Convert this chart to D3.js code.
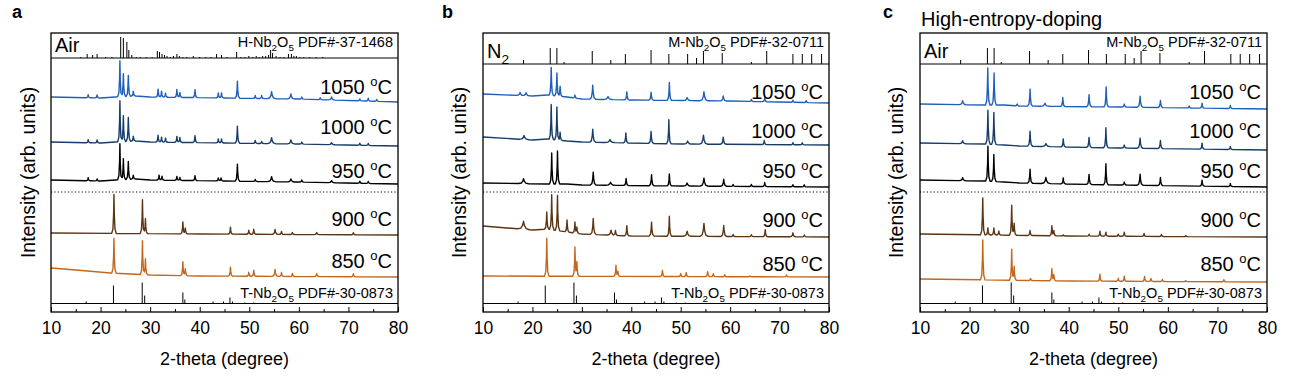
<!DOCTYPE html>
<html><head><meta charset="utf-8">
<script src="https://cdn.jsdelivr.net/npm/d3@7"></script>
<style>
body{margin:0;background:#fff}
svg{display:block}
text{font-family:"Liberation Sans",Arial,Helvetica,sans-serif;fill:#000}
</style>
</head><body>
<svg id="chart" width="1291" height="379"></svg>
<script>
// ---------------- DATA ----------------
const xTicks = [10, 20, 30, 40, 50, 60, 70, 80];
const xMinorTicks = [15, 25, 35, 45, 55, 65, 75];
const temperatures = ["1050", "1000", "950", "900", "850"];
const panelLetters = ["a", "b", "c"];
const atmospheres = ["Air", "N2", "Air"];
const topRefNames = ["H-Nb2O5 PDF#-37-1468", "M-Nb2O5 PDF#-32-0711", "M-Nb2O5 PDF#-32-0711"];
const bottomRefName = "T-Nb2O5 PDF#-30-0873";
const panelCTitle = "High-entropy-doping";

// reference stick patterns [2theta, relative height]
const hNb2O5Sticks = [[16.0,1],[17.3,4],[18.4,3],[19.3,4],[21.0,1],[22.3,1],[24.06,21],[24.6,20],[25.3,16],[25.7,8],[26.3,3],[27.2,1],[28.0,1],[29.2,1],[30.4,1],[31.45,7],[31.9,6],[32.4,4],[32.9,3],[33.4,2],[34.1,1],[34.7,2],[35.4,4],[35.9,2],[36.6,1],[37.4,1],[38.7,2],[40.0,1],[41.2,1],[42.3,1],[43.4,4],[44.4,3],[45.5,1],[47.45,6],[48.3,1],[49.1,1],[49.9,2],[50.7,1],[51.4,2],[52.0,1],[52.7,2],[53.3,2],[53.9,3],[54.3,8],[54.7,5],[55.4,2],[56.2,1],[57.0,1],[57.9,4],[58.5,4],[59.0,2],[59.5,2],[60.2,1],[61.0,1],[62.2,1],[63.5,1],[64.8,1]];
const mNb2O5Sticks = [[18.2,4],[23.6,16],[24.95,16],[26.4,2],[32.1,13],[35.85,4],[38.8,10],[44.0,14],[47.6,10],[51.4,10],[53.2,6],[54.6,13],[58.4,11],[64.3,2],[67.4,13],[72.7,10],[74.6,10],[76.5,10],[78.5,10]];
const tNb2O5Sticks = [[17.1,2],[22.6,18],[28.4,21],[28.9,8],[36.6,11],[37.0,4],[42.7,2],[44.8,2],[46.1,6],[46.6,2],[49.1,1],[50.9,1]];

// stack offsets of each pattern (arb. units), order = temperatures
const offsetsA = [214, 169, 131, 78, 35];
const offsetsB = [209, 167, 125, 75, 35];
const offsetsC = [203, 162, 125, 75, 30];

// backgrounds [2theta, intensity]
const bgA1050 = [[10,1],[20,0],[23,1],[27,2],[30,1],[45,0],[60,-1],[80,-4]];
const bgA1000 = [[10,1],[20,0],[23,1],[27,2],[30,1],[45,0],[60,-1],[80,-3]];
const bgA950  = [[10,1],[20,0],[23,1],[27,2],[30,1],[45,0],[60,-1],[80,-3]];
const bgA900  = [[10,1],[40,0],[80,-1]];
const bgA850  = [[10,9],[15,7],[22,4],[30,2],[40,1],[80,0]];
const bgB1050 = [[10,9],[20,7],[23,8],[27,6],[30,4],[40,3],[60,2],[80,0]];
const bgB1000 = [[10,8],[20,5],[23,6],[27,4],[30,3],[50,1],[80,0]];
const bgB950  = [[10,4],[23,3],[27,3],[30,2],[50,1],[80,0]];
const bgB900  = [[10,11],[20,7],[23,8],[27,5],[30,3],[40,1],[80,0]];
const bgB850  = [[10,1],[80,0]];
const bgC1050 = [[10,5],[23,4],[27,4],[30,3],[50,2],[80,0]];
const bgC1000 = [[10,7],[23,6],[27,5],[30,4],[50,2],[80,0]];
const bgC950  = [[10,7],[23,6],[27,5],[30,4],[50,2],[80,0]];
const bgC900  = [[10,3],[40,1],[80,0]];
const bgC850  = [[10,3],[40,1],[80,0]];

// peaks [2theta, height, half-width(deg, optional)]
const pkA1050 = [[17.5,3],[19.3,3],[23.9,36],[24.6,23],[25.6,21],[26.6,5],[31.6,8],[32.3,6],[33.1,4],[35.4,8],[36.0,5],[39.05,8],[43.75,5],[44.4,5],[47.6,17],[51.2,3],[52.5,3],[54.5,7,0.8],[58.4,5,0.7],[60.6,2],[64.3,2],[66.6,3,0.7],[72.3,2],[74.0,3],[75.7,2]];
const pkA1000 = [[17.5,3],[19.3,3],[23.9,41],[24.6,26],[25.6,24],[26.6,5],[31.6,7],[32.3,5],[33.1,4],[35.4,6],[36.0,5],[39.05,7],[43.75,4],[44.4,4],[47.6,17],[51.2,3],[52.5,2],[54.5,6,0.8],[58.4,4,0.7],[60.6,2],[66.6,2,0.7],[72.3,2],[74.0,2]];
const pkA950  = [[17.5,3],[19.3,2],[23.9,36],[24.6,21],[25.6,18],[26.6,4],[31.8,5],[32.4,4],[35.4,4],[36.0,3],[39.05,5],[43.75,3],[44.3,3],[47.6,17],[51.2,2],[54.5,5,0.8],[58.4,3,0.7],[60.6,2],[66.6,2,0.7],[72.3,2],[74.0,2]];
const pkA900  = [[22.7,39],[28.45,34],[29.05,15],[36.6,12],[37.1,6],[46.2,7],[49.9,4],[50.9,5],[55.2,5,0.6],[56.5,3],[58.7,2],[63.6,2,0.6],[71.0,2]];
const pkA850  = [[22.7,35],[28.45,34],[29.05,16],[36.6,14],[37.1,7],[46.2,9],[49.9,4],[50.9,6],[55.2,7,0.6],[56.5,4],[58.7,3],[63.6,3,0.6],[71.0,3]];
const pkB1050 = [[17.5,3,0.8],[18.7,3,0.8],[23.8,28],[24.95,23],[25.6,10],[28.6,3],[32.2,14,0.6],[35.3,3,1.0],[39.1,8],[44.0,8,0.5],[47.7,18],[51.3,3,0.8],[54.7,9,0.8],[58.6,5,0.6],[64.3,2],[67.0,4],[72.7,2],[75.4,2]];
const pkB1000 = [[18.3,4,1.0],[23.8,35],[24.95,33],[25.6,8],[32.2,13,0.6],[35.7,3,1.0],[38.9,10],[44.0,12,0.5],[47.6,24],[51.4,3,0.8],[54.6,9,0.8],[58.6,7,0.6],[66.9,4],[72.7,2],[74.6,2]];
const pkB950  = [[18.2,5,1.0],[23.9,31],[25.07,33],[32.3,13,0.6],[35.8,3,1.0],[38.95,7],[44.1,11,0.5],[47.7,12],[51.3,3,0.8],[54.7,8,0.8],[58.7,7,0.6],[60.6,2],[64.3,2],[67.0,4],[72.7,2],[75.0,2]];
const pkB900  = [[18.2,8,1.2],[22.9,17],[23.9,35],[25.07,35],[27.0,12],[28.6,11],[29.0,6],[32.3,16,0.6],[35.9,5,0.8],[36.8,5],[39.1,10],[44.1,14,0.5],[47.7,20],[51.3,5,0.8],[54.7,13,0.8],[58.7,11,0.6],[60.6,2],[64.3,2],[67.1,7],[72.7,4,0.6],[75.0,2]];
const pkB850  = [[22.9,38],[28.6,29],[29.0,14],[36.9,11],[37.3,5],[46.3,6],[50.0,3],[51.1,4],[55.45,5,0.5],[56.6,3],[58.9,2],[64.0,1],[71.4,2]];
const pkC1050 = [[18.6,4,0.7],[23.67,37],[24.94,32],[29.6,2],[32.2,17,0.5],[35.2,3,0.9],[38.8,9],[44.1,12,0.5],[47.55,20],[51.2,3,0.6],[54.4,11,0.6],[58.5,7,0.5],[64.3,2],[66.9,5],[72.6,3]];
const pkC1000 = [[18.6,3,0.7],[23.7,34],[24.9,32],[32.2,15,0.5],[35.4,3,0.9],[38.9,8],[44.1,10,0.5],[47.5,20],[51.2,3,0.6],[54.4,10,0.6],[58.5,8,0.5],[66.9,6],[72.6,3]];
const pkC950  = [[18.6,3,0.7],[23.7,35],[24.9,27],[32.2,14,0.5],[35.4,6,0.9],[38.9,6],[44.1,10,0.5],[47.5,21],[51.2,3,0.6],[54.4,11,0.6],[58.5,8,0.5],[66.9,6],[72.6,3]];
const pkC900  = [[22.66,37],[23.7,7],[24.9,7],[25.9,4],[28.5,30],[29.0,12],[32.2,5],[36.6,10],[37.0,5],[38.9,1],[44.1,2],[46.3,5],[47.5,4],[50.0,2],[51.2,4],[55.2,3],[58.7,2],[63.6,1]];
const pkC850  = [[22.66,40],[28.5,31],[29.0,14],[32.3,2],[36.6,12],[37.0,6],[46.3,7],[50.0,3],[51.2,5],[55.3,5],[56.6,3],[58.9,2],[63.6,1],[71.3,2]];

const tempColors = ["#1f5fbb", "#163c68", "#000000", "#5a3513", "#c4671d"];

// ---------------- LAYOUT / STYLE ----------------
// peak drawing profile: [fraction of half-width, fraction of height]
const peakProfile = [[-1,0],[-0.45,0.12],[-0.15,0.5],[0,1],[0.15,0.5],[0.45,0.12],[1,0]];
const defaultHalfWidth = 0.45;

const panels = [
  {left:51, right:398, top:33, strip:58, tline:303.5, bottom:312, letterX:12, ytitleX:35,
   atm:atmospheres[0], topRef:topRefNames[0], topSticks:hNb2O5Sticks,
   offsets:offsetsA, bgs:[bgA1050,bgA1000,bgA950,bgA900,bgA850], pks:[pkA1050,pkA1000,pkA950,pkA900,pkA850],
   labelY:[94,134,178,226,268]},
  {left:483, right:829, top:33, strip:64, tline:303.5, bottom:312, letterX:442, ytitleX:466,
   atm:atmospheres[1], topRef:topRefNames[1], topSticks:mNb2O5Sticks,
   offsets:offsetsB, bgs:[bgB1050,bgB1000,bgB950,bgB900,bgB850], pks:[pkB1050,pkB1000,pkB950,pkB900,pkB850],
   labelY:[99,138,178,227,271]},
  {left:920, right:1267, top:33, strip:64, tline:303.5, bottom:312, letterX:883, ytitleX:903,
   atm:atmospheres[2], topRef:topRefNames[2], topSticks:mNb2O5Sticks,
   offsets:offsetsC, bgs:[bgC1050,bgC1000,bgC950,bgC900,bgC850], pks:[pkC1050,pkC1000,pkC950,pkC900,pkC850],
   labelY:[99,138,178,227,271]}
];

const svg = d3.select("#chart");

function peakValue(x, p) {
  const w = p[2] || defaultHalfWidth;
  const u = (x - p[0]) / w;
  if (u <= -1 || u >= 1) return 0;
  for (let k = 0; k < peakProfile.length - 1; k++) {
    const a = peakProfile[k], b = peakProfile[k+1];
    if (u >= a[0] && u <= b[0]) return p[1] * (a[1] + (b[1]-a[1]) * (u - a[0]) / (b[0]-a[0]));
  }
  return 0;
}

function buildPattern(bg, peaks, offset) {
  const xs = new Set([10, 80]);
  bg.forEach(d => xs.add(d[0]));
  peaks.forEach(p => { const w = p[2] || defaultHalfWidth; peakProfile.forEach(q => xs.add(p[0] + q[0]*w)); });
  const sorted = [...xs].filter(x => x >= 10 && x <= 80).sort((a,b) => a-b);
  const bgScale = d3.scaleLinear().domain(bg.map(d => d[0])).range(bg.map(d => d[1])).clamp(true);
  return sorted.map(x => {
    let y = bgScale(x) + offset;
    peaks.forEach(p => { y += peakValue(x, p); });
    return [x, y];
  });
}

// writes chemical formula with subscripts
function formulaText(sel, s, fs) {
  const tokens = [];
  let buf = "";
  for (let k = 0; k < s.length; k++) {
    const ch = s[k];
    const isSub = /\d/.test(ch) && /(Nb|O|N)$/.test(s.slice(0, k));
    if (isSub) { if (buf) tokens.push([buf, false]); buf = ""; tokens.push([ch, true]); }
    else buf += ch;
  }
  if (buf) tokens.push([buf, false]);
  let sub = false;
  tokens.forEach(t => {
    const ts = sel.append("tspan").text(t[0]);
    if (t[1]) { ts.attr("font-size", fs*0.68); if (!sub) { ts.attr("dy", fs*0.28); sub = true; } }
    else if (sub) { ts.attr("dy", -fs*0.28); sub = false; }
  });
}

function tempLabel(g, x, y, t) {
  const tx = g.append("text").attr("x", x).attr("y", y).attr("text-anchor","end").attr("font-size", 20);
  tx.append("tspan").text(t + " ");
  tx.append("tspan").text("o").attr("font-size", 13).attr("dy", -8);
  tx.append("tspan").text("C").attr("dy", 8);
}

panels.forEach((P, pi) => {
  const g = svg.append("g");
  const x = d3.scaleLinear().domain([10, 80]).range([P.left, P.right]);
  const y = d3.scaleLinear().domain([0, P.bottom - P.top]).range([P.bottom, P.top]);

  const line = d3.line().x(d => x(d[0])).y(d => y(d[1]));
  temperatures.forEach((t, i) => {
    const data = buildPattern(P.bgs[i], P.pks[i], P.offsets[i]);
    g.append("path").datum(data).attr("d", line)
      .attr("fill","none").attr("stroke", tempColors[i]).attr("stroke-width", 1.4).attr("stroke-linejoin","round");
    tempLabel(g, P.right - 6, P.labelY[i], t);
  });

  g.append("line").attr("x1", P.left).attr("x2", P.right).attr("y1", 192).attr("y2", 192)
    .attr("stroke","#000").attr("stroke-width",1).attr("stroke-dasharray","1.2,2.2");

  const topBase = P.bottom - P.strip;
  g.selectAll(null).data(P.topSticks).join("line")
    .attr("x1", d => x(d[0])).attr("x2", d => x(d[0]))
    .attr("y1", y(topBase)).attr("y2", d => y(topBase + d[1]))
    .attr("stroke","#000").attr("stroke-width",1);
  g.append("line").attr("x1",P.left).attr("x2",P.right).attr("y1",P.strip).attr("y2",P.strip)
    .attr("stroke","#000").attr("stroke-width",1.2);

  const botBase = P.bottom - P.tline;
  g.selectAll(null).data(tNb2O5Sticks).join("line")
    .attr("x1", d => x(d[0])).attr("x2", d => x(d[0]))
    .attr("y1", y(botBase)).attr("y2", d => y(botBase + d[1]))
    .attr("stroke","#000").attr("stroke-width",1);
  g.append("line").attr("x1",P.left).attr("x2",P.right).attr("y1",P.tline).attr("y2",P.tline)
    .attr("stroke","#000").attr("stroke-width",1);

  g.append("rect").attr("x",P.left).attr("y",P.top).attr("width",P.right-P.left).attr("height",P.bottom-P.top)
    .attr("fill","none").attr("stroke","#000").attr("stroke-width",1.3);

  const ax = g.append("g").attr("transform",`translate(0,${P.bottom})`)
    .call(d3.axisBottom(x).tickValues(xTicks).tickSizeInner(-5).tickSizeOuter(0).tickPadding(10).tickFormat(d3.format("d")));
  ax.select(".domain").remove();
  ax.selectAll(".tick line").attr("stroke","#000").attr("stroke-width",1);
  ax.selectAll(".tick text").attr("font-size",17.5).attr("font-family","Liberation Sans, Arial, sans-serif").attr("fill","#000");
  const axm = g.append("g").attr("transform",`translate(0,${P.bottom})`)
    .call(d3.axisBottom(x).tickValues(xMinorTicks).tickSizeInner(-3).tickSizeOuter(0).tickFormat(""));
  axm.select(".domain").remove();
  axm.selectAll(".tick line").attr("stroke","#000").attr("stroke-width",1);

  g.append("text").attr("x",(P.left+P.right)/2).attr("y",365).attr("text-anchor","middle")
    .attr("font-size",18).text("2-theta (degree)");
  g.append("text").attr("transform",`translate(${P.ytitleX},${(P.top+P.bottom)/2}) rotate(-90)`)
    .attr("text-anchor","middle").attr("font-size",19.5).text("Intensity (arb. units)");
  g.append("text").attr("x",P.letterX).attr("y",18).attr("font-size",18).attr("font-weight","bold").text(panelLetters[pi]);

  const atm = g.append("text").attr("x",P.left+4).attr("y",P.strip - 6).attr("font-size",20);
  formulaText(atm, P.atm, 20);
  const tr = g.append("text").attr("x",P.right-5).attr("y",47).attr("text-anchor","end").attr("font-size",14.5);
  formulaText(tr, P.topRef, 14.5);
  const br = g.append("text").attr("x",P.right-5).attr("y",298).attr("text-anchor","end").attr("font-size",14.5);
  formulaText(br, bottomRefName, 14.5);
});

svg.append("text").attr("x",921).attr("y",26).attr("font-size",20).text(panelCTitle);
</script>
</body></html>
